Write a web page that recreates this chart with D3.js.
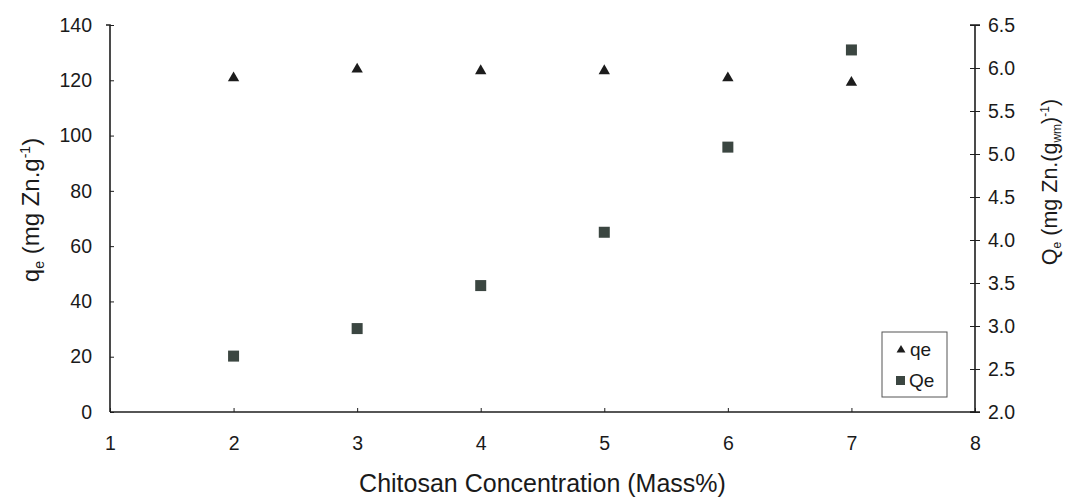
<!DOCTYPE html>
<html><head><meta charset="utf-8">
<script src="https://cdn.jsdelivr.net/npm/d3@7"></script>
<style>body{margin:0;background:#fff;}svg{display:block;font-family:"Liberation Sans",Arial,sans-serif;}</style>
</head><body><svg id="c" width="1077" height="499"></svg>
<script>
const concentrations = [2, 3, 4, 5, 6, 7];
const qeValues = [120.8, 124, 123.4, 123.4, 120.8, 119.2];
const QeValues = [2.65, 2.97, 3.47, 4.09, 5.08, 6.21];
const xTicks = [1, 2, 3, 4, 5, 6, 7, 8];
const leftTicks = [0, 20, 40, 60, 80, 100, 120, 140];
const rightTicks = [2.0, 2.5, 3.0, 3.5, 4.0, 4.5, 5.0, 5.5, 6.0, 6.5];

const svg = d3.select("#c");
const L = 110, R = 975, T = 25, B = 412;
const x = d3.scaleLinear().domain([1, 8]).range([L, R]);
const yL = d3.scaleLinear().domain([0, 140]).range([B, T]);
const yR = d3.scaleLinear().domain([2, 6.5]).range([B, T]);
const ink = "#1e1e1e";

const gx = svg.append("g").attr("transform", `translate(0,${B})`)
  .call(d3.axisBottom(x).tickValues(xTicks).tickFormat(d3.format("d")).tickSize(-4).tickPadding(24));
const gl = svg.append("g").attr("transform", `translate(${L},0)`)
  .call(d3.axisLeft(yL).tickValues(leftTicks).tickSize(-4).tickPadding(18));
const gr = svg.append("g").attr("transform", `translate(${R},0)`)
  .call(d3.axisRight(yR).tickValues(rightTicks).tickFormat(d3.format(".1f")).tickSize(5).tickPadding(8));
gr.selectAll(".tick line").attr("x1", -5);
[gx, gl, gr].forEach(g => {
  g.select(".domain").attr("stroke", ink).attr("stroke-width", 1.6);
  g.selectAll(".tick line").attr("stroke", ink).attr("stroke-width", 1);
  g.selectAll(".tick text").attr("fill", "#1a1a1a").style("font-size", "19.5px");
});
gl.select(".domain").attr("d", `M-4,${T}H0V${B}`);
gr.select(".domain").attr("d", `M-5,${T}H5M0,${T}V${B}M-5,${B}H5`);
gx.select(".domain").attr("d", `M${L},0H${R}`);

svg.append("text").attr("x", (L + R) / 2).attr("y", 492).attr("text-anchor", "middle")
  .style("font-size", "25px").attr("fill", "#1a1a1a").text("Chitosan Concentration (Mass%)");

const lt = svg.append("text").attr("transform", "translate(39,210) rotate(-90)")
  .attr("text-anchor", "middle").style("font-size", "24px").attr("fill", "#1a1a1a");
lt.append("tspan").text("q");
lt.append("tspan").attr("dy", 5).style("font-size", "14px").text("e");
lt.append("tspan").attr("dy", -5).text(" (mg Zn.g");
lt.append("tspan").attr("dy", -9).style("font-size", "14px").text("-1");
lt.append("tspan").attr("dy", 9).text(")");

const rt = svg.append("text").attr("transform", "translate(1057,182) rotate(-90)")
  .attr("text-anchor", "middle").style("font-size", "21.5px").attr("fill", "#1a1a1a");
rt.append("tspan").text("Q");
rt.append("tspan").attr("dy", 4).style("font-size", "12px").text("e");
rt.append("tspan").attr("dy", -4).text(" (mg Zn.(g");
rt.append("tspan").attr("dy", 4).style("font-size", "12px").text("wm");
rt.append("tspan").attr("dy", -4).text(")");
rt.append("tspan").attr("dy", -8).style("font-size", "12px").text("-1");
rt.append("tspan").attr("dy", 8).text(")");

const tri = d3.symbol().type(d3.symbolTriangle).size(56);
svg.append("g").selectAll("path").data(concentrations).join("path")
  .attr("d", tri).attr("fill", "#1c1c1c")
  .attr("transform", (d, i) => `translate(${x(d)},${yL(qeValues[i])})`);
svg.append("g").selectAll("rect").data(concentrations).join("rect")
  .attr("x", d => x(d) - 5.5).attr("y", (d, i) => yR(QeValues[i]) - 5.5)
  .attr("width", 11).attr("height", 11).attr("fill", "#3b4641");

const lg = svg.append("g").attr("transform", "translate(882,332)");
lg.append("rect").attr("width", 65).attr("height", 65).attr("fill", "#fff")
  .attr("stroke", "#555").attr("stroke-width", 1);
lg.append("path").attr("d", d3.symbol().type(d3.symbolTriangle).size(34)).attr("fill", "#1c1c1c")
  .attr("transform", "translate(19,18)");
lg.append("text").attr("x", 28).attr("y", 24).style("font-size", "19px").attr("fill", "#1a1a1a").text("qe");
lg.append("rect").attr("x", 14).attr("y", 44).attr("width", 9).attr("height", 9).attr("fill", "#3b4641");
lg.append("text").attr("x", 27).attr("y", 55).style("font-size", "19px").attr("fill", "#1a1a1a").text("Qe");
</script></body></html>
